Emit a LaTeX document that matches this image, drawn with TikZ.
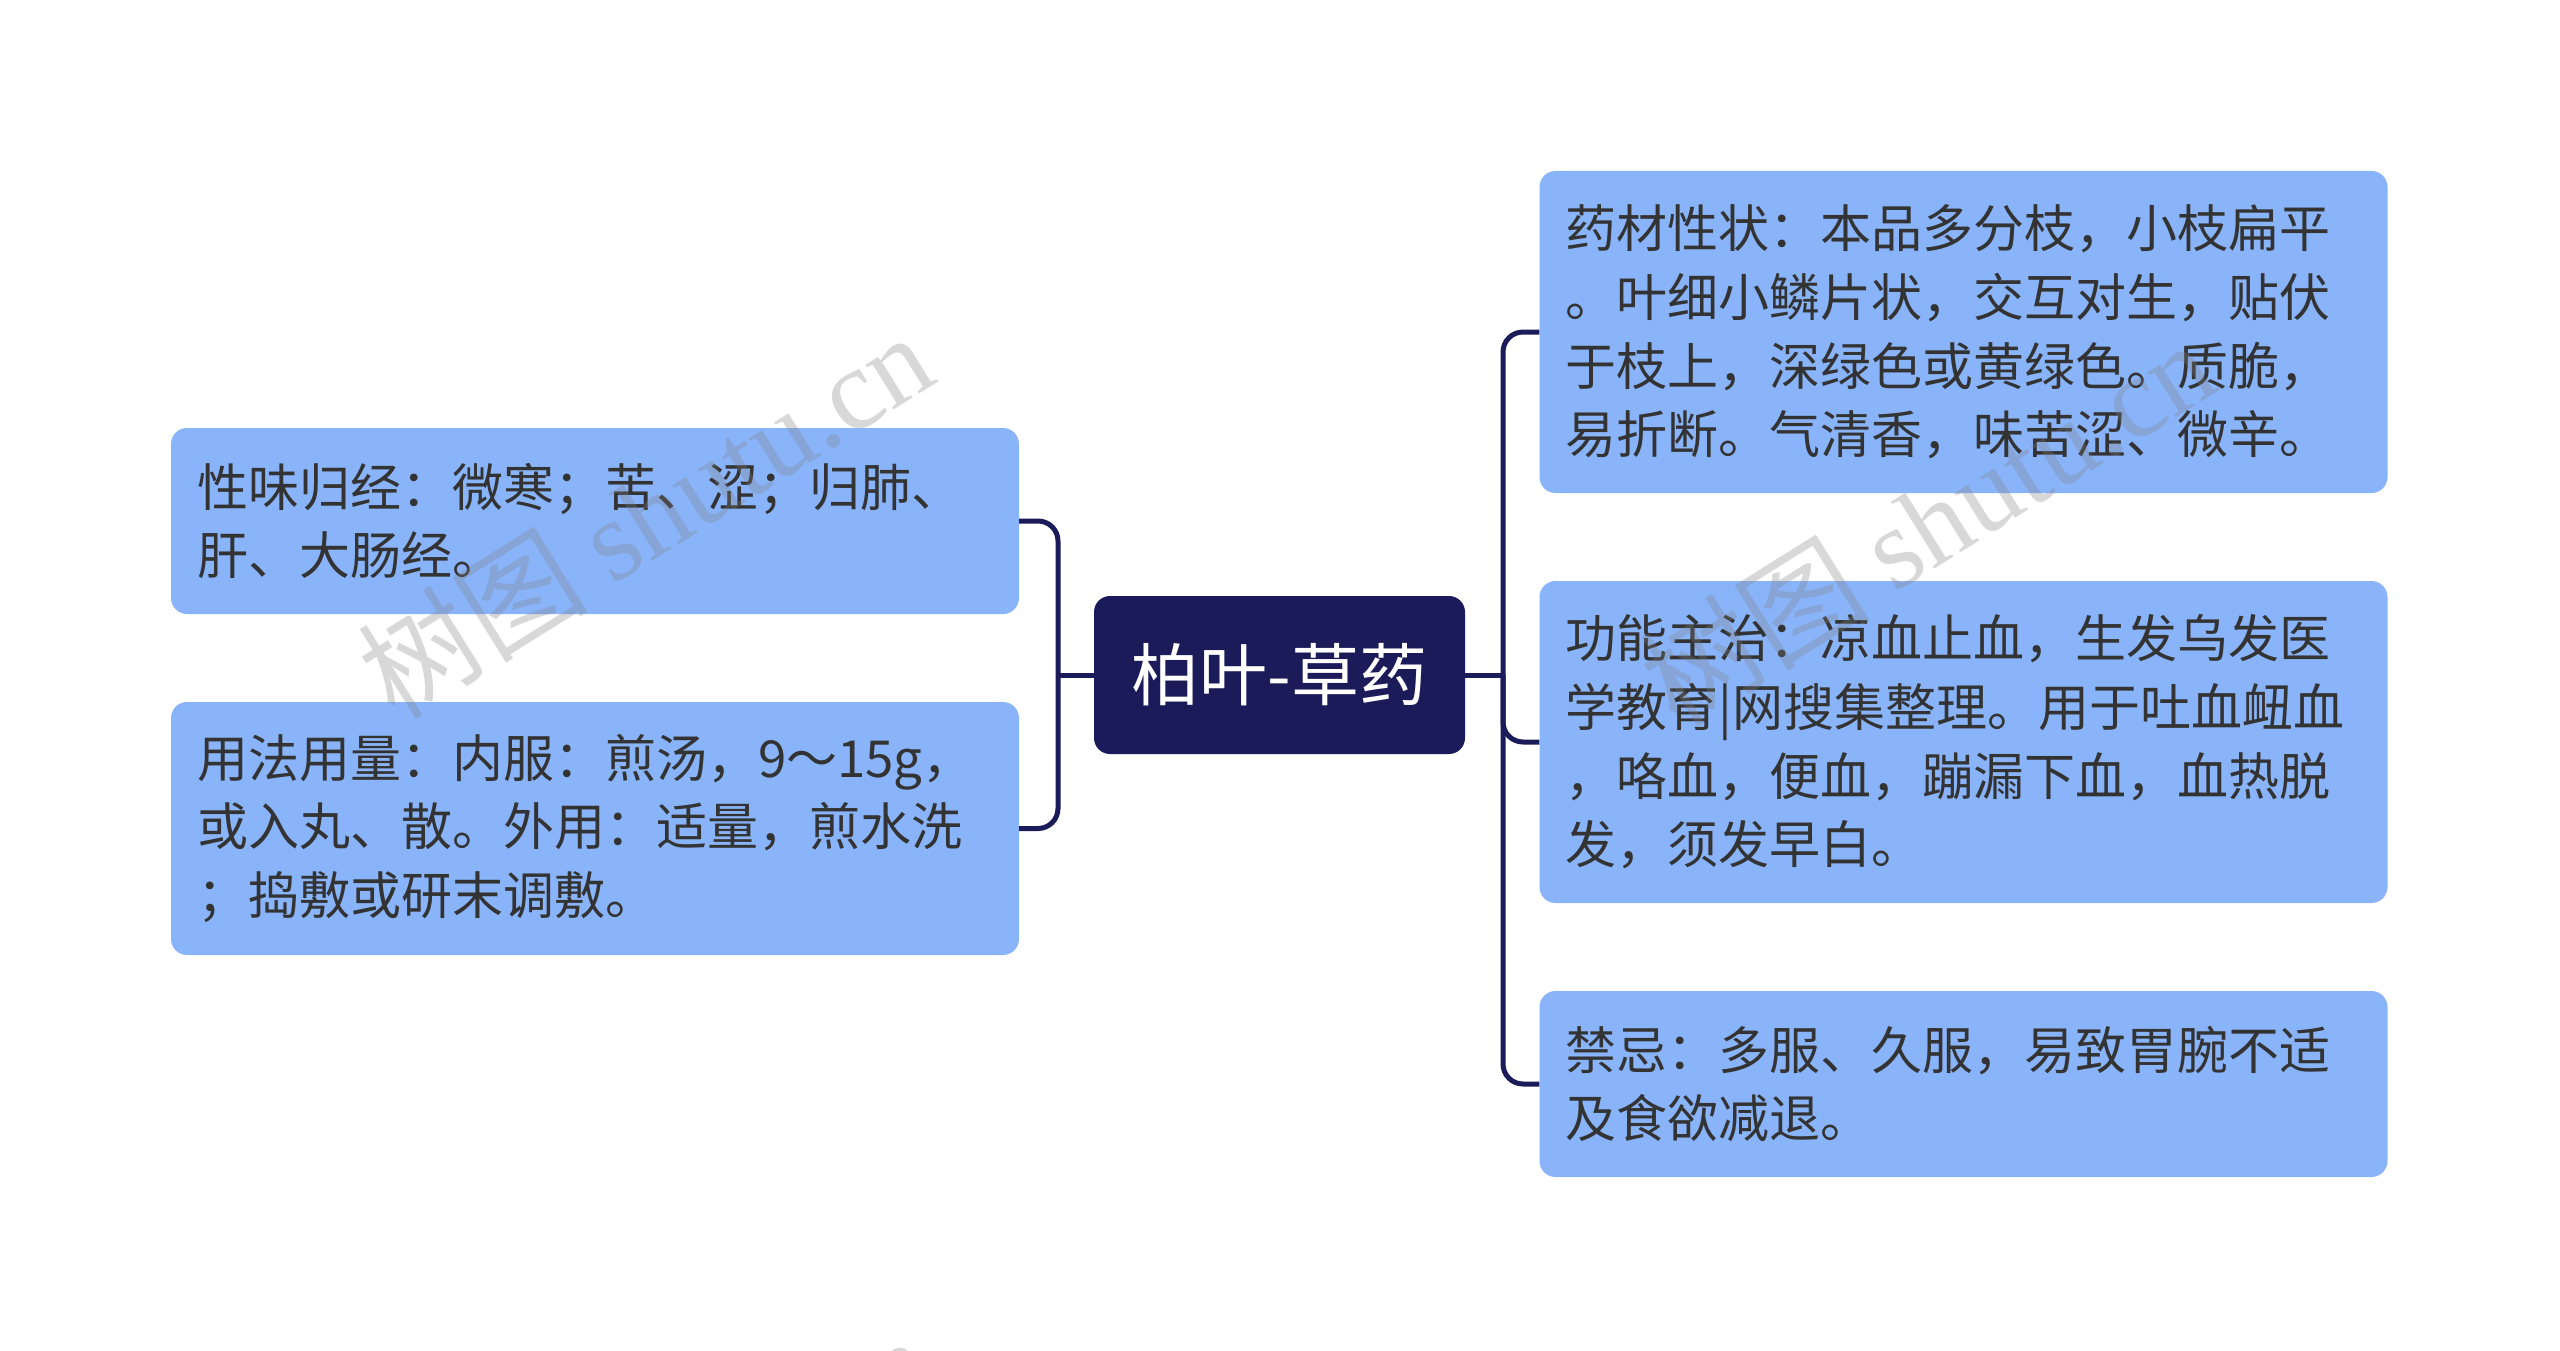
\documentclass[tikz,border=0pt]{standalone}
\usepackage{fontspec}
\setmainfont{Noto Sans CJK SC}
\newfontfamily\wmserif{Liberation Serif}
\newfontfamily\wmcjk{Noto Sans CJK SC}
\definecolor{navy}{RGB}{28,27,90}
\definecolor{boxblue}{RGB}{138,180,250}
\definecolor{txt}{RGB}{51,51,51}
\begin{document}
\begin{tikzpicture}[x=1pt,y=-1pt,
 leaf/.style={fill=boxblue, rounded corners=16pt, text width=796pt, inner xsep=26pt, inner ysep=0pt, minimum width=848pt, align=left, text=txt, font=\fontsize{51}{68.6}\selectfont},
 root/.style={fill=navy, rounded corners=16pt, minimum width=371pt, minimum height=158pt, text=white, font=\fontsize{68}{80}\selectfont, inner sep=0pt},
 link/.style={draw=navy, line width=5pt, rounded corners=20pt},
 wm/.style={rotate=32, text=gray, opacity=0.3, font=\fontsize{115}{120}\selectfont}]
\useasboundingbox (0,0) rectangle (2560,1351);
\fill[white] (0,0) rectangle (2560,1351);
\clip (0,0) rectangle (2560,1351);

\node[root] (root) at (1279.5,675) {柏叶-草药};

\node[leaf, minimum height=186pt] (l1) at (595,521) {性味归经：微寒；苦、涩；归肺、\\肝、大肠经。};
\node[leaf, minimum height=253pt] (l2) at (595,828.5) {用法用量：内服：煎汤，9～15g，\\或入丸、散。外用：适量，煎水洗\\；捣敷或研末调敷。};

\node[leaf, minimum height=322pt] (r1) at (1963.5,332) {药材性状：本品多分枝，小枝扁平\\。叶细小鳞片状，交互对生，贴伏\\于枝上，深绿色或黄绿色。质脆，\\易折断。气清香，味苦涩、微辛。};
\node[leaf, minimum height=322pt] (r2) at (1963.5,742) {功能主治：凉血止血，生发乌发医\\学教育|网搜集整理。用于吐血衄血\\，咯血，便血，蹦漏下血，血热脱\\发，须发早白。};
\node[leaf, minimum height=186pt] (r3) at (1963.5,1084) {禁忌：多服、久服，易致胃腕不适\\及食欲减退。};

\coordinate (lj) at (1058,675);
\coordinate (rj) at (1503,675);
\draw[link] (root.west) -- (lj);
\draw[link] (lj) -- (lj |- l1.east) -- (l1.east);
\draw[link] (lj) -- (lj |- l2.east) -- (l2.east);
\draw[link] (root.east) -- (rj);
\draw[link] (rj) -- (rj |- r1.west) -- (r1.west);
\draw[link] (rj) -- (rj |- r2.west) -- (r2.west);
\draw[link] (rj) -- (rj |- r3.west) -- (r3.west);

\node[wm] (w1) at (645,514) {\wmcjk 树图 \wmserif shutu.cn};
\node[wm] (w2) at (1927,522) {\wmcjk 树图 \wmserif shutu.cn};
\node[wm] (w3) at (645,1518) {\wmcjk 树图 \wmserif shutu.cn};
\node[wm] (w4) at (1927,1526) {\wmcjk 树图 \wmserif shutu.cn};
\end{tikzpicture}
\end{document}
